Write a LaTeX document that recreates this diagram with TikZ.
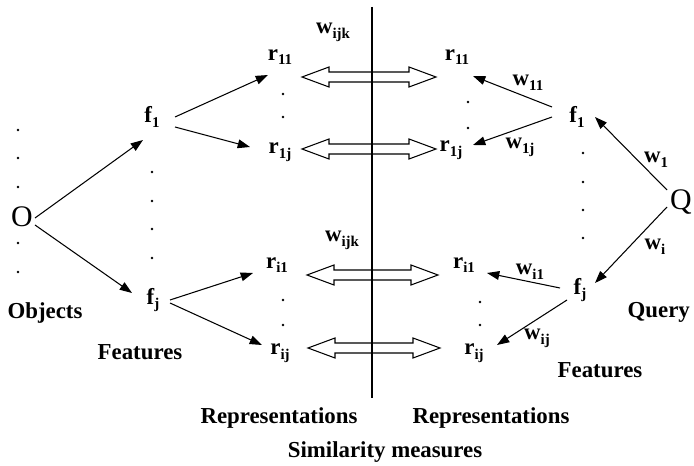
\documentclass[tikz,border=0pt]{standalone}
\usepackage{fontspec}
\setmainfont{Liberation Serif}
\usetikzlibrary{arrows.meta}
\newcommand{\sbs}[1]{\raisebox{-0.45ex}{\fontsize{8.5}{10}\selectfont #1}}

\begin{document}
\begin{tikzpicture}[x=0.02cm, y=-0.02cm,
    lbl/.style={font=\fontsize{13}{15}\selectfont\bfseries, inner sep=1pt},
    big/.style={font=\fontsize{17}{19}\selectfont, inner sep=1pt},
    arr/.style={-{Triangle[length=7pt,width=5pt]}, line width=0.6pt},
    hollow/.style={line width=0.6pt}]
  \useasboundingbox (0,0) rectangle (694,466);
  \clip (0,0) rectangle (694,466);

  % Object side
  \node[big] (O) at (22,217) {O};
  \node[lbl] (objects) at (45,313) {Objects};
  \foreach \y in {130,158,187,243,272}
    \fill (18,\y) circle[radius=0.8pt];

  % Features (left)
  \node[lbl] (f1L) at (152,117) {f\sbs{1}};
  \node[lbl] (fjL) at (153,300) {f\sbs{j}};
  \node[lbl] (featL) at (140,352) {Features};
  \foreach \y in {172,201,229,258}
    \fill (152,\y) circle[radius=0.8pt];

  % Representations (left)
  \node[lbl] (r11L) at (280,57) {r\sbs{11}};
  \node[lbl] (r1jL) at (280,152) {r\sbs{1j}};
  \node[lbl] (ri1L) at (277,265) {r\sbs{i1}};
  \node[lbl] (rijL) at (280,353) {r\sbs{ij}};
  \foreach \y in {94,117,300,325}
    \fill (283,\y) circle[radius=0.8pt];
  \node[lbl] (repL) at (279,418) {Representations};

  % Representations (right)
  \node[lbl] (r11R) at (457,57) {r\sbs{11}};
  \node[lbl] (r1jR) at (451,150) {r\sbs{1j}};
  \node[lbl] (ri1R) at (464,265) {r\sbs{i1}};
  \node[lbl] (rijR) at (474,353) {r\sbs{ij}};
  \foreach \x/\y in {468/102,468/128,480/302,480/325}
    \fill (\x,\y) circle[radius=0.8pt];
  \node[lbl] (repR) at (491,418) {Representations};

  % Features and query (right)
  \node[lbl] (f1R) at (577,117) {f\sbs{1}};
  \node[lbl] (fjR) at (580,290) {f\sbs{j}};
  \node[lbl] (featR) at (600,370) {Features};
  \foreach \y in {153,182,210,238}
    \fill (583,\y) circle[radius=0.8pt];
  \node[big] (Q) at (681,202) {Q};
  \node[lbl, anchor=east] (query) at (692,312) {Query};

  % Similarity measures
  \node[lbl] (simil) at (385,452) {Similarity measures};
  \node[lbl] (wijkA) at (333,32) {w\sbs{ijk}};
  \node[lbl] (wijkB) at (342,240) {w\sbs{ijk}};
  \foreach \y/\xa/\xb in {77/302/436, 149/302/436, 275/307/438, 348/308/440}
    \draw[hollow] (\xa,\y) -- (\xa+27,\y-10) -- (\xa+27,\y-5) -- (\xb-27,\y-5)
      -- (\xb-27,\y-10) -- (\xb,\y) -- (\xb-27,\y+10) -- (\xb-27,\y+5)
      -- (\xa+27,\y+5) -- (\xa+27,\y+10) -- cycle;
  \coordinate (lineTop) at (372,7);
  \coordinate (lineBot) at (372,398);
  \draw[line width=0.7pt] (lineTop) -- (lineBot);

  % Arrows on the left
  \draw[arr] ([shift={(13,1)}]O.center) -- ([shift={(-9,23)}]f1L.center);
  \draw[arr] ([shift={(13,8)}]O.center) -- ([shift={(-21,-7)}]fjL.center);
  \draw[arr] ([shift={(23,0)}]f1L.center) -- ([shift={(-12,18)}]r11L.center);
  \draw[arr] ([shift={(23,10)}]f1L.center) -- ([shift={(-30,-5)}]r1jL.center);
  \draw[arr] ([shift={(17,0)}]fjL.center) -- ([shift={(-24,8)}]ri1L.center);
  \draw[arr] ([shift={(17,3)}]fjL.center) -- ([shift={(-18,-8)}]rijL.center);

  % Arrows on the right
  \draw[arr] ([shift={(-14,-12)}]Q.center) -- ([shift={(18,0)}]f1R.center);
  \draw[arr] ([shift={(-14,5)}]Q.center) -- ([shift={(15,-7)}]fjR.center);
  \draw[arr] ([shift={(-25,-10)}]f1R.center) -- ([shift={(16,19)}]r11R.center);
  \draw[arr] ([shift={(-25,0)}]f1R.center) -- ([shift={(22,-5)}]r1jR.center);
  \draw[arr] ([shift={(-20,-2)}]fjR.center) -- ([shift={(23,8)}]ri1R.center);
  \draw[arr] ([shift={(-13,10)}]fjR.center) -- ([shift={(23,-8)}]rijR.center);

  % Weights
  \node[lbl] (w11) at (528,83) {w\sbs{11}};
  \node[lbl] (w1j) at (520,147) {w\sbs{1j}};
  \node[lbl] (w1) at (656,160) {w\sbs{1}};
  \node[lbl] (wi) at (655,247) {w\sbs{i}};
  \node[lbl] (wi1) at (530,272) {w\sbs{i1}};
  \node[lbl] (wij) at (537,338) {w\sbs{ij}};
\end{tikzpicture}
\end{document}
